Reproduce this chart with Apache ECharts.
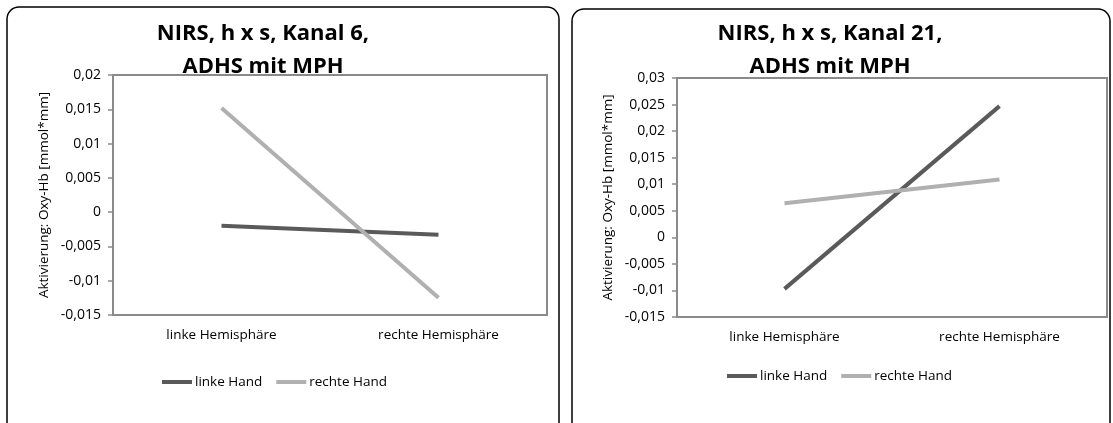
<!DOCTYPE html>
<html><head><meta charset="utf-8">
<script src="https://cdn.jsdelivr.net/npm/echarts@6/dist/echarts.min.js"></script>
<style>html,body{margin:0;padding:0;background:#fff}#c{width:1113px;height:423px}</style>
</head><body><div id="c"></div>
<script>
const categories = ['linke Hemisphäre', 'rechte Hemisphäre'];
const seriesNames = ['linke Hand', 'rechte Hand'];
const kanal6LinkeHand = [-0.0020, -0.0033];
const kanal6RechteHand = [0.0152, -0.0125];
const kanal21LinkeHand = [-0.0097, 0.0247];
const kanal21RechteHand = [0.0064, 0.0109];
const kanal6Axis = { min: -0.015, max: 0.02, interval: 0.005 };
const kanal21Axis = { min: -0.015, max: 0.03, interval: 0.005 };
const titles = ['NIRS, h x s, Kanal 6,\nADHS mit MPH', 'NIRS, h x s, Kanal 21,\nADHS mit MPH'];
const yName = 'Aktivierung: Oxy-Hb [mmol*mm]';

const FONT = 'Open Sans';
const AXIS = '#8a8a8a';
const DARK = '#5a5a5a';
const LIGHT = '#b0b0b0';

const fmt = v => parseFloat(v.toFixed(4)).toString().replace('.', ',');

function yAxis(idx, ax) {
  return {
    type: 'value', gridIndex: idx, min: ax.min, max: ax.max, interval: ax.interval,
    name: yName, nameLocation: 'middle', nameGap: 62,
    nameTextStyle: { fontFamily: FONT, fontSize: 13.5, color: '#000' },
    axisLine: { show: true, onZero: false, lineStyle: { color: AXIS, width: 2 } },
    axisTick: { show: true, length: 5, lineStyle: { color: AXIS, width: 1.5 } },
    axisLabel: { formatter: fmt, fontFamily: FONT, fontSize: 14, color: '#000', margin: 12 },
    splitLine: { show: false }
  };
}
function xAxis(idx) {
  return {
    type: 'category', gridIndex: idx, data: categories, boundaryGap: true,
    axisLine: { show: true, onZero: false, lineStyle: { color: AXIS, width: 2 } },
    axisTick: { show: false },
    axisLabel: { fontFamily: FONT, fontSize: 13.5, color: '#000', margin: 13 }
  };
}
function line(name, data, idx, color) {
  return {
    type: 'line', name, data, xAxisIndex: idx, yAxisIndex: idx,
    symbol: 'none', lineStyle: { color, width: 4 }, itemStyle: { color },
    animation: false
  };
}
const legendBase = {
  data: seriesNames, icon: 'rect', itemWidth: 30, itemHeight: 4, itemGap: 14,
  textStyle: { fontFamily: FONT, fontSize: 13.5, color: '#000', padding: [0, 0, 0, -2] }
};

const chart = echarts.init(document.getElementById('c'), null, { renderer: 'canvas' });
chart.setOption({
  animation: false,
  backgroundColor: '#fff',
  title: [
    { text: titles[0], left: 258, top: 12, textAlign: 'center',
      textStyle: { fontFamily: FONT, fontWeight: 'bold', fontSize: 22, lineHeight: 33, color: '#000' } },
    { text: titles[1], left: 825, top: 12, textAlign: 'center',
      textStyle: { fontFamily: FONT, fontWeight: 'bold', fontSize: 22, lineHeight: 33, color: '#000' } }
  ],
  legend: [
    Object.assign({ left: 157, top: 370 }, legendBase),
    Object.assign({ left: 722, top: 364 }, legendBase)
  ],
  grid: [
    { left: 113, top: 75, width: 434, height: 240, show: true, borderColor: AXIS, borderWidth: 2 },
    { left: 677, top: 78, width: 430, height: 239, show: true, borderColor: AXIS, borderWidth: 2 }
  ],
  xAxis: [xAxis(0), xAxis(1)],
  yAxis: [yAxis(0, kanal6Axis), yAxis(1, kanal21Axis)],
  series: [
    line(seriesNames[0], kanal6LinkeHand, 0, DARK),
    line(seriesNames[1], kanal6RechteHand, 0, LIGHT),
    line(seriesNames[0], kanal21LinkeHand, 1, DARK),
    line(seriesNames[1], kanal21RechteHand, 1, LIGHT)
  ],
  graphic: [
    { type: 'rect', shape: { x: 7, y: 7, width: 552, height: 440, r: 12 },
      style: { fill: 'none', stroke: '#000', lineWidth: 1.5 }, silent: true },
    { type: 'rect', shape: { x: 572, y: 9, width: 538, height: 440, r: 12 },
      style: { fill: 'none', stroke: '#000', lineWidth: 1.5 }, silent: true }
  ]
});
</script></body></html>
